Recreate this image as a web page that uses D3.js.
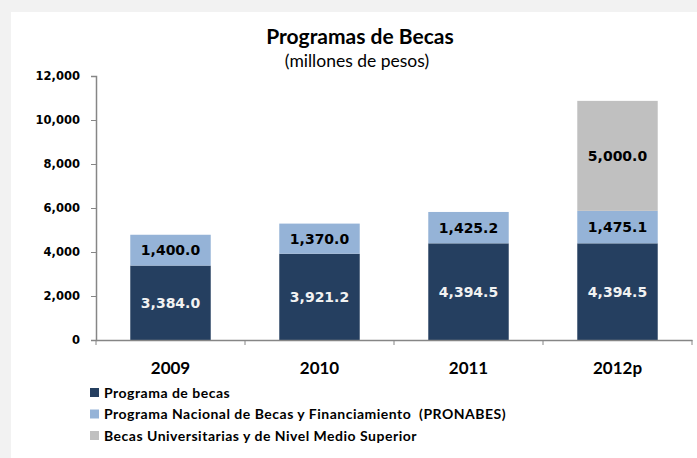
<!DOCTYPE html>
<html>
<head>
<meta charset="utf-8">
<script src="https://cdn.jsdelivr.net/npm/d3@7"></script>
<style>
  body { margin: 0; background: #f2f2f2; }
  svg { display: block; }
</style>
</head>
<body>
<div id="chart"></div>
<script>
const years = ["2009", "2010", "2011", "2012p"];
const seriesNames = [
  "Programa de becas",
  "Programa Nacional de Becas y Financiamiento  (PRONABES)",
  "Becas Universitarias y de Nivel Medio Superior"
];
const becas = [3384.0, 3921.2, 4394.5, 4394.5];
const pronabes = [1400.0, 1370.0, 1425.2, 1475.1];
const universitarias = [0, 0, 0, 5000.0];
const yTicks = [0, 2000, 4000, 6000, 8000, 10000, 12000];

const keys = ["becas", "pronabes", "universitarias"];
const colors = ["#253f60", "#95b3d7", "#c0c0c0"];
const labelColors = ["#f2f2f2", "#000000", "#000000"];

const rows = years.map((y, i) => ({
  year: y,
  becas: becas[i],
  pronabes: pronabes[i],
  universitarias: universitarias[i]
}));

const width = 697;
const height = 458;
const margin = { top: 76, right: 5, bottom: 118, left: 96 };

const svg = d3.select("#chart").append("svg")
  .attr("width", width)
  .attr("height", height);

// white panel
svg.append("rect")
  .attr("x", 11)
  .attr("y", 12)
  .attr("width", width - 11)
  .attr("height", height - 12)
  .attr("fill", "#ffffff");

const x = d3.scaleBand()
  .domain(years)
  .range([margin.left, width - margin.right])
  .paddingInner(0.46)
  .paddingOuter(0.23);

const y = d3.scaleLinear()
  .domain([0, 12000])
  .range([height - margin.bottom, margin.top]);

const series = d3.stack().keys(keys)(rows);

svg.append("g")
  .selectAll("g")
  .data(series)
  .join("g")
  .attr("fill", (d, i) => colors[i])
  .selectAll("rect")
  .data(d => d.filter(p => p[1] - p[0] > 0))
  .join("rect")
  .attr("x", d => x(d.data.year))
  .attr("y", d => y(d[1]))
  .attr("height", d => y(d[0]) - y(d[1]))
  .attr("width", x.bandwidth());

// value labels
const fmt = d3.format(",.1f");
series.forEach((s, i) => {
  svg.append("g")
    .selectAll("text")
    .data(s.filter(p => p[1] - p[0] > 0))
    .join("text")
    .attr("x", d => x(d.data.year) + x.bandwidth() / 2)
    .attr("y", d => (y(d[0]) + y(d[1])) / 2)
    .attr("dy", "0.36em")
    .attr("text-anchor", "middle")
    .attr("fill", labelColors[i])
    .style("font-family", "DejaVu Sans")
    .style("font-weight", "bold")
    .style("font-size", "14px")
    .text(d => fmt(d[1] - d[0]));
});

// y axis
const yAxis = svg.append("g")
  .attr("transform", `translate(${margin.left},0)`)
  .call(d3.axisLeft(y).tickValues(yTicks).tickFormat(d3.format(",")).tickSize(5).tickPadding(11));
yAxis.select(".domain").attr("stroke", "#868686").attr("stroke-width", 1.5);
yAxis.selectAll(".tick line").attr("stroke", "#868686");
yAxis.selectAll("text")
  .style("font-family", "DejaVu Sans")
  .style("font-weight", "bold")
  .style("font-size", "11.5px")
  .attr("fill", "#000");

// x axis
const xAxis = svg.append("g")
  .attr("transform", `translate(0,${height - margin.bottom})`)
  .call(d3.axisBottom(x).tickSize(0).tickPadding(22));
xAxis.select(".domain").attr("stroke", "#868686").attr("stroke-width", 1.5);
xAxis.selectAll("text")
  .style("font-family", "Lato")
  .style("font-weight", "bold")
  .style("font-size", "17px")
  .attr("fill", "#000");

// category separators on x axis
const step = x.step();
const edges = years.map((d, i) => margin.left + i * step).concat([width - margin.right]);
svg.append("g")
  .selectAll("line")
  .data(edges)
  .join("line")
  .attr("x1", d => d)
  .attr("x2", d => d)
  .attr("y1", height - margin.bottom)
  .attr("y2", height - margin.bottom + 5)
  .attr("stroke", "#868686");

// title
svg.append("text")
  .attr("x", 360)
  .attr("y", 44)
  .attr("text-anchor", "middle")
  .style("font-family", "Lato")
  .style("font-weight", "bold")
  .style("font-size", "21px")
  .text("Programas de Becas");

svg.append("text")
  .attr("x", 357)
  .attr("y", 67)
  .attr("text-anchor", "middle")
  .style("font-family", "Lato")
  .style("font-size", "17.5px")
  .text("(millones de pesos)");

// legend
const legend = svg.append("g")
  .attr("transform", "translate(90, 388)");

seriesNames.forEach((name, i) => {
  const g = legend.append("g")
    .attr("transform", `translate(0, ${i * 21.5})`);

  g.append("rect")
    .attr("width", 9)
    .attr("height", 9)
    .attr("fill", colors[i]);

  g.append("text")
    .attr("x", 14)
    .attr("y", 5)
    .attr("dy", "0.35em")
    .style("font-family", "Lato")
    .style("font-weight", "bold")
    .style("font-size", "14px")
    .style("letter-spacing", "0.5px")
    .style("white-space", "pre")
    .text(name);
});
</script>
</body>
</html>
